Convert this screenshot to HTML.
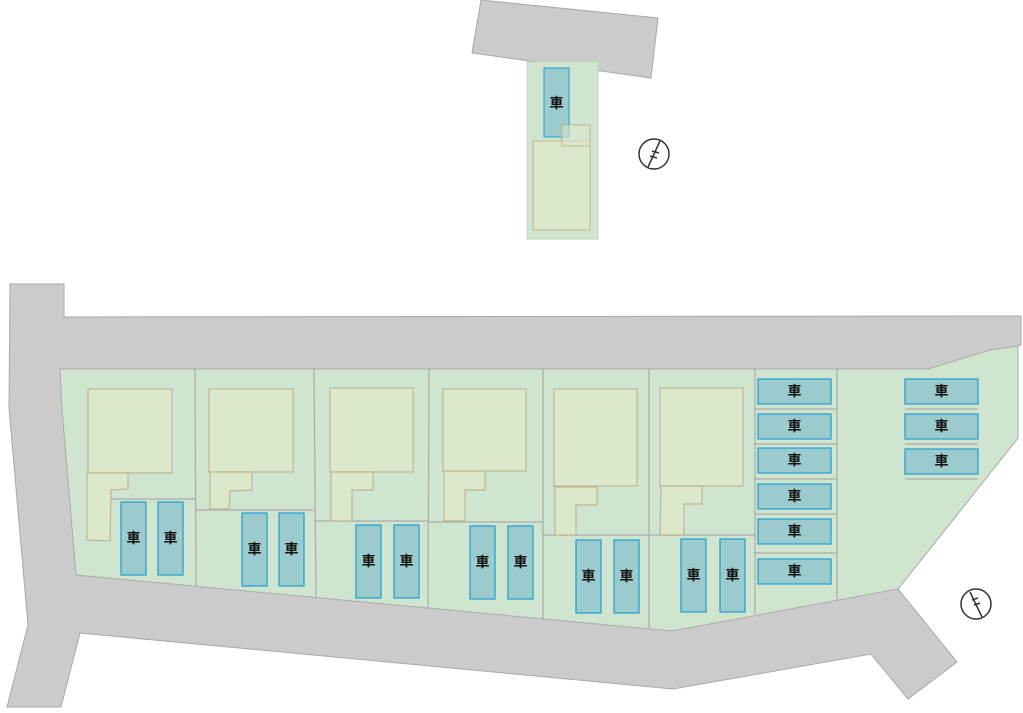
<!DOCTYPE html>
<html><head><meta charset="utf-8"><style>
html,body{margin:0;padding:0;background:#fff;width:1023px;height:713px;overflow:hidden}
svg text{font-family:"Liberation Sans","Noto Sans CJK JP",sans-serif;font-weight:bold;font-size:14px;fill:#111}
</style></head><body>
<svg width="1023" height="713" viewBox="0 0 1023 713" xmlns="http://www.w3.org/2000/svg">
<!-- top road -->
<polygon points="481,0 658,18 651,78 472,53" fill="#cbcbcb" stroke="#a8a8a8" stroke-width="1"/>
<rect x="527" y="62" width="71" height="177" fill="#cfe5cf" stroke="#c2d8c2"/>
<rect x="533" y="141" width="57" height="89" fill="#dce8cb" stroke="#bfb591"/>
<rect x="544" y="68" width="25" height="69" fill="#9bcbcc" stroke="#1a9fd0"/>
<rect x="562" y="125" width="28" height="21" fill="#dce8cb" fill-opacity="0.6" stroke="#bfb591"/>
<text x="556.5" y="108" text-anchor="middle">車</text>
<!-- main road -->
<polygon points="10,284 64,284 64,317 1021,316 1021,345 1018,346 1018,438 898,589 957,662 908,699 871,654 673,689 80,633 61,707 7,707 28,625 9,408" fill="#cbcbcb" stroke="#a8a8a8"/>
<!-- lots -->
<polygon points="60,369 928,369 990,350 1018,346 1018,438 898,589 672,631 76,575 62,410" fill="#cfe5cf" stroke="#aaa"/>
<g stroke="#aaa" stroke-width="1.2" fill="none">
<line x1="195" y1="369" x2="196" y2="586"/>
<line x1="314" y1="369" x2="316" y2="597"/>
<line x1="429" y1="369" x2="428" y2="608"/>
<line x1="543" y1="369" x2="543" y2="619"/>
<line x1="649" y1="369" x2="649" y2="629"/>
<line x1="755" y1="369" x2="755" y2="614"/>
<line x1="837" y1="369" x2="837" y2="600"/>
<line x1="110" y1="499" x2="195" y2="499"/>
<line x1="196" y1="510" x2="314" y2="510"/>
<line x1="315" y1="521" x2="429" y2="521"/>
<line x1="429" y1="522" x2="543" y2="522"/>
<line x1="543" y1="535" x2="649" y2="535"/>
<line x1="649" y1="535" x2="755" y2="535"/>
<line x1="754" y1="409" x2="837" y2="409"/>
<line x1="754" y1="444" x2="837" y2="444"/>
<line x1="754" y1="479" x2="837" y2="479"/>
<line x1="754" y1="514" x2="837" y2="514"/>
<line x1="754" y1="553" x2="837" y2="553"/>
<line x1="905" y1="409" x2="978" y2="409"/>
<line x1="905" y1="444" x2="978" y2="444"/>
<line x1="905" y1="479" x2="978" y2="479"/>
</g>
<!-- houses -->
<g fill="#dce8cb" stroke="#bfb591" stroke-width="1.2">
<rect x="88" y="389" width="84" height="84"/><polygon points="87,473 128,473 128,489 111,490 110,541 87,540"/>
<rect x="209" y="389" width="84" height="83"/><polygon points="210,472 252,472 252,490 230,491 229,509 210,509"/>
<rect x="330" y="388" width="83" height="84"/><polygon points="331,472 373,472 373,490 352,490 352,521 331,521"/>
<rect x="443" y="389" width="83" height="82"/><polygon points="444,471 485,471 485,490 465,490 465,521 444,521"/>
<rect x="554" y="389" width="83" height="97"/><polygon points="555,487 597,487 597,505 576,505 576,535 555,535"/>
<rect x="660" y="388" width="83" height="98"/><polygon points="661,486 702,486 702,504 684,504 684,535 660,535"/>
</g>
<!-- cars -->
<g fill="#9bcbcc" stroke="#1a9fd0" stroke-width="1.2">
<rect x="121" y="502" width="25" height="73"/><rect x="158" y="502" width="25" height="73"/>
<rect x="242" y="513" width="25" height="73"/><rect x="279" y="513" width="25" height="73"/>
<rect x="356" y="525" width="25" height="73"/><rect x="394" y="525" width="25" height="73"/>
<rect x="470" y="526" width="25" height="73"/><rect x="508" y="526" width="25" height="73"/>
<rect x="576" y="540" width="25" height="73"/><rect x="614" y="540" width="25" height="73"/>
<rect x="681" y="539" width="25" height="73"/><rect x="720" y="539" width="25" height="73"/>
<rect x="758" y="379" width="73" height="25"/><rect x="758" y="414" width="73" height="25"/>
<rect x="758" y="448" width="73" height="25"/><rect x="758" y="484" width="73" height="25"/>
<rect x="758" y="519" width="73" height="25"/><rect x="758" y="559" width="73" height="25"/>
<rect x="905" y="379" width="73" height="25"/><rect x="905" y="414" width="73" height="25"/>
<rect x="905" y="449" width="73" height="25"/>
</g>
<g text-anchor="middle">
<text x="133.5" y="543">車</text><text x="170.5" y="543">車</text>
<text x="254.5" y="554">車</text><text x="291.5" y="554">車</text>
<text x="368.5" y="566">車</text><text x="406.5" y="566">車</text>
<text x="482.5" y="567">車</text><text x="520.5" y="567">車</text>
<text x="588.5" y="581">車</text><text x="626.5" y="581">車</text>
<text x="693.5" y="580">車</text><text x="732.5" y="580">車</text>
<text x="794.5" y="396">車</text><text x="794.5" y="431">車</text>
<text x="794.5" y="465">車</text><text x="794.5" y="501">車</text>
<text x="794.5" y="536">車</text><text x="794.5" y="576">車</text>
<text x="941.5" y="396">車</text><text x="941.5" y="431">車</text>
<text x="941.5" y="466">車</text>
</g>
<!-- compasses -->
<g stroke="#333" stroke-width="1.5" fill="none">
<circle cx="654" cy="154" r="15"/>
<line x1="660" y1="141" x2="648" y2="167"/><line x1="652" y1="151" x2="659" y2="153"/><line x1="650" y1="156" x2="657" y2="158"/>
<circle cx="976" cy="604" r="15"/>
<line x1="970" y1="592" x2="982" y2="617"/><line x1="972" y1="600" x2="978" y2="598"/><line x1="974" y1="605" x2="980" y2="603"/>
</g>
</svg>
</body></html>
